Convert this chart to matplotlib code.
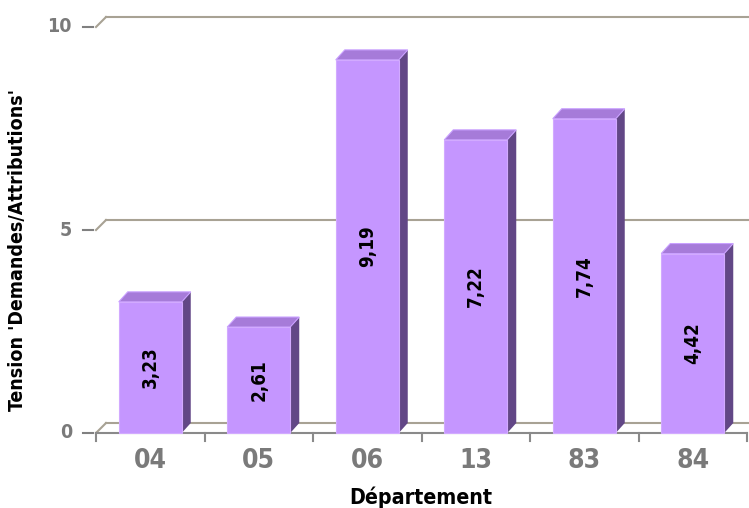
import matplotlib
matplotlib.use("Agg")
import matplotlib.pyplot as plt
from matplotlib.patches import Polygon, Rectangle

categories = ["04", "05", "06", "13", "83", "84"]
values = [3.23, 2.61, 9.19, 7.22, 7.74, 4.42]
value_labels = ["3,23", "2,61", "9,19", "7,22", "7,74", "4,42"]
yticks = [0, 5, 10]

FONT = ['DejaVu Sans']
plt.rcParams['font.family'] = FONT
ST = 'condensed'

W, H = 749, 508
fig = plt.figure(figsize=(W / 100, H / 100), dpi=100)
L, R, B, T = 96, 747, 433, 27
ax = fig.add_axes([L / W, (H - B) / H, (R - L) / W, (B - T) / H])
n = len(categories)
ax.set_xlim(0, n)
ax.set_ylim(0, 10)
ax.axis('off')

pxx = (R - L) / n
pxy = (B - T) / 10.0
gdx, gdy = 10 / pxx, 10 / pxy
bdx, bdy = 9 / pxx, 10 / pxy
gcol = '#a8a294'

for v in yticks:
    ax.plot([0, gdx], [v, v + gdy], color=gcol, lw=1.5, clip_on=False, zorder=1)
    ax.plot([gdx, (749 - L) / pxx], [v + gdy, v + gdy], color=gcol, lw=1.5,
            clip_on=False, zorder=1)
    ax.plot([-13 / pxx, -3 / pxx], [v, v], color='#808080', lw=1.5, clip_on=False, zorder=1)
    ax.text(-24 / pxx, v, str(v), ha='right', va='center', fontsize=14,
            fontweight='bold', color='#7a7a7a', family=FONT, fontstretch=ST)

ax.plot([0, n], [0, 0], color='#8a8a8a', lw=1.5, clip_on=False, zorder=1)
for i in range(n + 1):
    ax.plot([i, i], [0, -8 / pxy], color='#8a8a8a', lw=1.5, clip_on=False, zorder=1)

bw = 63 / pxx
front = '#c596ff'
top = '#a67bd9'
side = '#624786'
for i, (v, lab) in enumerate(zip(values, value_labels)):
    x0 = i + 0.5 - bw / 2
    x1 = x0 + bw
    ax.add_patch(Polygon([(x1, 0), (x1, v), (x1 + bdx, v + bdy), (x1 + bdx, bdy)],
                         closed=True, facecolor=side, edgecolor='none', zorder=3,
                         clip_on=False))
    ax.add_patch(Polygon([(x0, v), (x1, v), (x1 + bdx, v + bdy), (x0 + bdx, v + bdy)],
                         closed=True, facecolor=top, edgecolor='#c9a0ff', lw=0.8,
                         zorder=3, clip_on=False))
    ax.add_patch(Rectangle((x0, 0), bw, v, facecolor=front, edgecolor='#d2aaff',
                           lw=0.8, zorder=4, clip_on=False))
    ax.text(i + 0.5, v / 2, lab, rotation=90, ha='center', va='center',
            fontsize=13.5, fontweight='bold', color='black', zorder=5, family=FONT,
            fontstretch=ST)
    ax.text(i + 0.5, -28 / pxy, categories[i], ha='center', va='center',
            fontsize=19, fontweight='bold', color='#7a7a7a', family=FONT,
            fontstretch=ST)

fig.text(421 / W, 1 - 497 / H, 'Département', ha='center', va='center',
         fontsize=15.3, fontweight='bold', color='black', family=FONT, fontstretch=ST)
fig.text(18 / W, 1 - 250 / H, "Tension 'Demandes/Attributions'", rotation=90,
         ha='center', va='center', fontsize=14, fontweight='bold', color='black',
         family=FONT, fontstretch=ST)

fig.savefig('out.png', dpi=100)
